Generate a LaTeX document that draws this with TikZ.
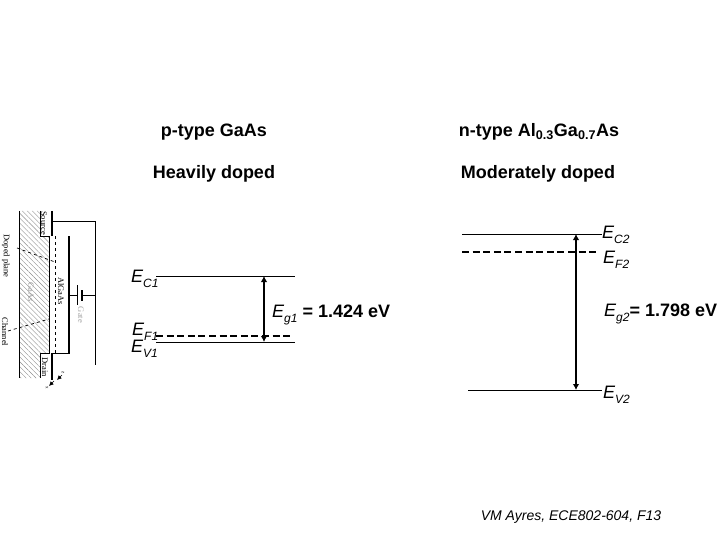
\documentclass[tikz,border=0pt]{standalone}
\usepackage{fontspec}
\setmainfont{Liberation Sans}
\newfontfamily\serifinset{Liberation Serif}
\usetikzlibrary{patterns.meta,arrows.meta}
\tikzset{
    level/.style={black, line width=0.9pt},
    fermi/.style={black, line width=2.6pt, dash pattern=on 7pt off 3.6pt},
    gap/.style={black, line width=1.6pt, {Latex[length=6pt,width=6.5pt]}-{Latex[length=6pt,width=6.5pt]}},
    heading/.style={font=\bfseries\fontsize{18}{20}\selectfont, inner sep=0pt},
    elabel/.style={font=\itshape\fontsize{18}{20}\selectfont, inner sep=0pt},
    insetlabel/.style={font=\serifinset\fontsize{8.5}{10}\selectfont, inner sep=0pt, rotate=-90},
    wire/.style={black, line width=0.7pt},
    plate/.style={black, line width=1.5pt},
    axisarrow/.style={black, line width=0.7pt, -{Latex[length=4.5pt,width=4.5pt]}}
}
\newcommand{\lowsub}[1]{\raisebox{-5.5pt}{\fontsize{12}{14}\selectfont #1}}
\begin{document}
\begin{tikzpicture}[x=1pt,y=-1pt]
    \useasboundingbox (0,0) rectangle (720,540);

    % headings
    \node[heading] (ptype) at (214,132) {p-type GaAs};
    \node[heading] (pdope) at (214,174) {Heavily doped};
    \node[heading] (ntype) at (539,132) {n-type Al\textsubscript{0.3}Ga\textsubscript{0.7}As};
    \node[heading] (ndope) at (538,174) {Moderately doped};

    % left band
    \coordinate (c1l) at (156,276); \coordinate (c1r) at (295,276);
    \coordinate (f1l) at (156,336); \coordinate (f1r) at (291,336);
    \coordinate (v1l) at (156,342); \coordinate (v1r) at (295,342);
    \coordinate (g1t) at (264,276); \coordinate (g1b) at (264,342);
    \draw[level] (c1l) -- (c1r);
    \draw[level] (v1l) -- (v1r);
    \draw[fermi] (f1l) -- (f1r);
    \draw[gap] (g1t) -- (g1b);
    \node[elabel, anchor=west] (ec1) at (131,279) {E\lowsub{C1}};
    \node[elabel, anchor=west] (ef1) at (132,332) {E\lowsub{F1}};
    \node[elabel, anchor=west] (ev1) at (131,349) {E\lowsub{V1}};
    \node[elabel, anchor=west] (eg1) at (272,315) {E\lowsub{g1} \textbf{\textup{= 1.424 eV}}};

    % right band
    \coordinate (c2l) at (462,234); \coordinate (c2r) at (602,234);
    \coordinate (f2l) at (462,252); \coordinate (f2r) at (598,252);
    \coordinate (v2l) at (468,390); \coordinate (v2r) at (602,390);
    \coordinate (g2t) at (576,234); \coordinate (g2b) at (576,390);
    \draw[level] (c2l) -- (c2r);
    \draw[level] (v2l) -- (v2r);
    \draw[fermi] (f2l) -- (f2r);
    \draw[gap] (g2t) -- (g2b);
    \node[elabel, anchor=west] (ec2) at (602,235) {E\lowsub{C2}};
    \node[elabel, anchor=west] (ef2) at (603,260) {E\lowsub{F2}};
    \node[elabel, anchor=west] (ev2) at (603,395) {E\lowsub{V2}};
    \node[elabel, anchor=west] (eg2) at (604,314) {E\lowsub{g2}\textbf{\textup{= 1.798 eV}}};

    % credit
    \node[font=\itshape\fontsize{14}{16}\selectfont, inner sep=0pt] (credit) at (571,517) {VM Ayres, ECE802-604, F13};

    % inset
    \fill[pattern={Lines[angle=-45,distance=3.5pt,line width=0.4pt]}, pattern color=black!45] (20,211) -- (40,211) -- (40,236) -- (49,236) -- (49,353) -- (40,353) -- (40,378) -- (20,378) -- cycle;
    \draw[wire] (19,211) -- (19,378);
    \draw[wire] (40,211) -- (40,236) -- (49,236) -- (49,353) -- (40,353) -- (40,378);
    \draw[wire, dashed] (55,236) -- (55,353);
    \draw[plate] (52,211) -- (52,236);
    \draw[plate] (52,353) -- (52,380);
    \draw[plate] (69,236) -- (69,354);
    \draw[wire] (52,221) -- (95,221) -- (95,365);
    \draw[wire] (52,353) -- (69,353);
    \draw[wire] (69,295) -- (77,295);
    \draw[wire] (82,295) -- (95,295);
    \draw[wire, line width=0.9pt] (77,285) -- (77,305);
    \draw[plate, line width=2.5pt] (82,290) -- (82,301);
    \draw[wire, dashed] (17,248) -- (55,262);
    \draw[wire, dashed] (8,331) -- (49,319);
    \draw[axisarrow] (62,375) -- (57,380);
    \draw[axisarrow] (54,381) -- (49,386);
    \node[insetlabel] (source) at (44,223) {Source};
    \node[insetlabel] (drain) at (45,367) {Drain};
    \node[insetlabel] (algaas) at (61,291) {AlGaAs};
    \node[insetlabel, text=black!40] (gaas) at (31,292) {GaAs};
    \node[insetlabel] (doped) at (6,256) {Doped plane};
    \node[insetlabel] (channel) at (5,332) {Channel};
    \node[insetlabel, text=black!35] (gate) at (81,315) {Gate};
    \node[font=\serifinset\fontsize{5}{6}\selectfont, inner sep=0pt, rotate=-90] (zlabel) at (63,373) {z};
    \node[font=\serifinset\fontsize{5}{6}\selectfont, inner sep=0pt, rotate=-90] (xlabel) at (47,388) {x};
\end{tikzpicture}
\end{document}
